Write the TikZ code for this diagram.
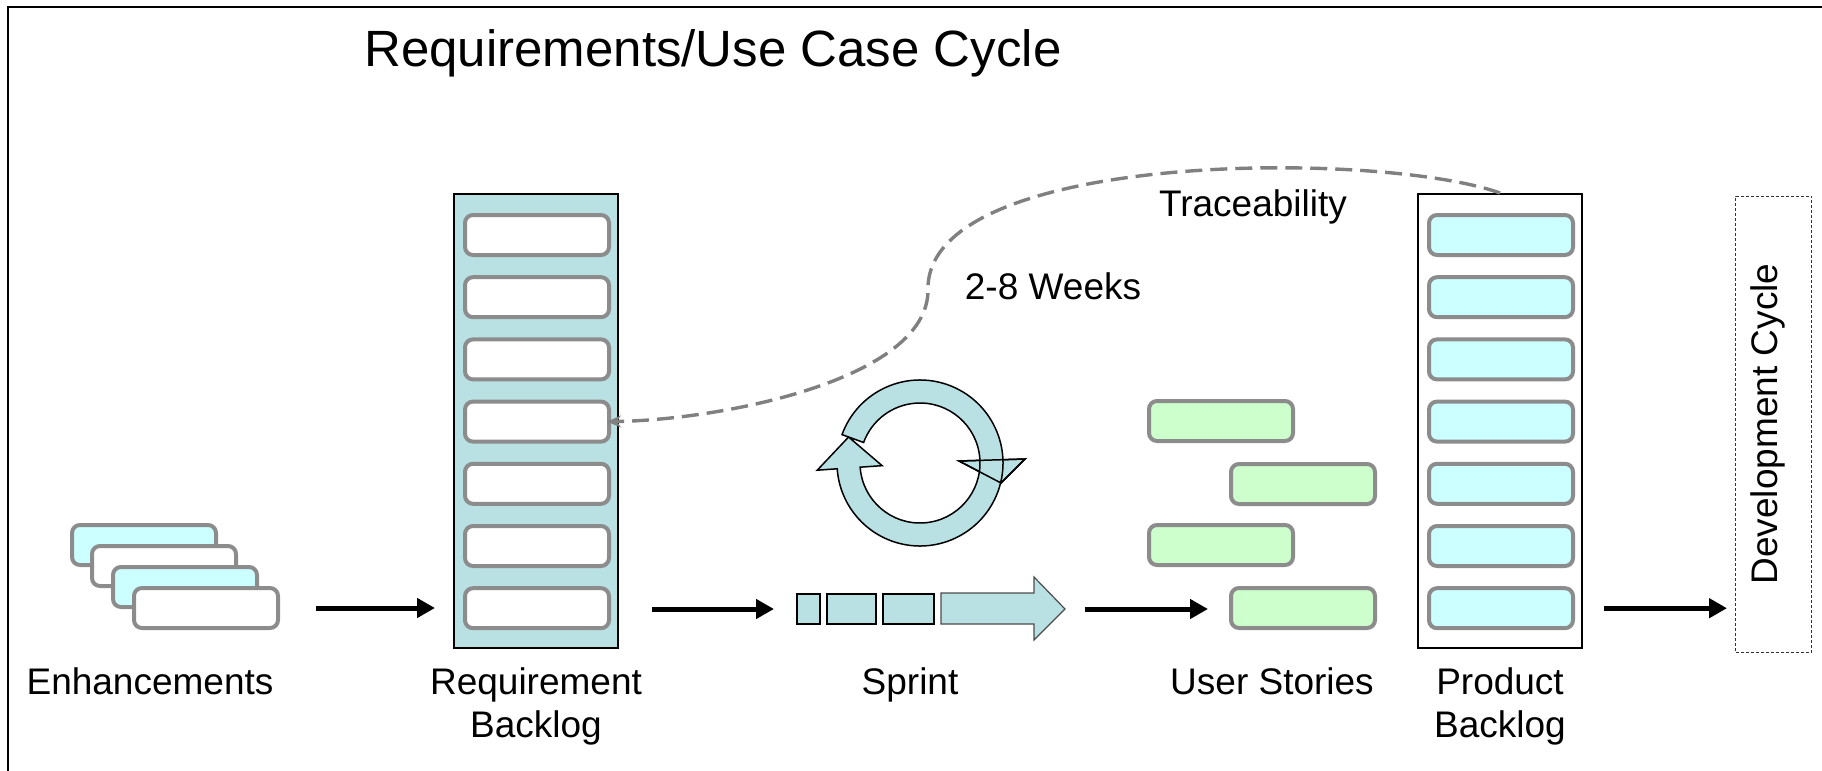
\documentclass[tikz,border=0pt]{standalone}
\usepackage{fontspec}
\setmainfont{Liberation Sans}
\usetikzlibrary{positioning,arrows.meta}
\definecolor{slotgray}{HTML}{8C8C8C}
\definecolor{paleblue}{HTML}{B9E0E3}
\definecolor{palecyan}{HTML}{CCFFFF}
\definecolor{palegreen}{HTML}{CCFFCC}

\begin{document}
\begin{tikzpicture}[x=0.5pt,y=-0.5pt,
  slot/.style={draw=slotgray,line width=2pt,rounded corners=4pt,minimum width=72pt,minimum height=20pt,inner sep=0pt},
  backlog/.style={draw,line width=1pt,minimum width=82pt,minimum height=227pt,inner sep=0pt},
  sprintbox/.style={draw,fill=paleblue,line width=1pt,minimum height=15pt,inner sep=0pt},
  flow/.style={line width=2.5pt,-{Triangle[length=9pt,width=9.5pt]}},
  lbl/.style={font=\fontsize{18.5}{21.5}\selectfont,inner sep=0pt,anchor=base,align=center}]
\useasboundingbox (0,0) rectangle (1822,771);
\draw[line width=1pt] (8,771) -- (8,7) -- (1822,7);
\node[font=\fontsize{25.5}{30}\selectfont,inner sep=0pt,anchor=base] (title) at (713,66) {Requirements/Use Case Cycle};

% enhancements
\node[slot,fill=palecyan] (e1) at (144,545) {};
\node[slot,fill=white] (e2) at (164,566) {};
\node[slot,fill=palecyan] (e3) at (185,587) {};
\node[slot,fill=white] (e4) at (206,608) {};

% backlogs
\node[backlog,fill=paleblue] (rbox) at (536,421) {};
\node[backlog,fill=white] (pbox) at (1500,421) {};
\foreach \i in {1,...,7}{
  \node[slot,fill=white] (rs\i) at (537,172.8+62.2*\i) {};
  \node[slot,fill=palecyan] (ps\i) at (1501,172.8+62.2*\i) {};
}

% sprint
\node[sprintbox,minimum width=11.5pt] (sq1) at (808.5,609) {};
\node[sprintbox,minimum width=24.5pt] (sq2) at (851.5,609) {};
\node[sprintbox,minimum width=25.5pt] (sq3) at (908.5,609) {};
\draw[fill=paleblue,draw=black!70,line width=0.6pt] (941,593) -- (1034,593) -- (1034,577) -- (1065,609) -- (1034,640) -- (1034,624) -- (941,624) -- cycle;
\coordinate (stip) at (1065,609);

% cycle
\begin{scope}[shift={(920,463)},line width=0.75pt]
\filldraw[fill=paleblue] (39,-2) -- (105,-4) -- (81,20) -- cycle;
\filldraw[fill=paleblue] (200:83) arc[start angle=200,end angle=536,radius=83] -- (536:103) -- (560:76) -- (536:38) -- (536:60) arc[start angle=536,end angle=200,radius=60] -- cycle;
\draw (39,-2) -- (105,-4) -- (81,20) -- cycle;
\end{scope}

% user stories
\node[slot,fill=palegreen] (us1) at (1221,421) {};
\node[slot,fill=palegreen] (us2) at (1303,484) {};
\node[slot,fill=palegreen] (us3) at (1221,545) {};
\node[slot,fill=palegreen] (us4) at (1303,608) {};

% development cycle
\node[draw=black!80,line width=0.5pt,dash pattern=on 1.5pt off 1pt,minimum width=38pt,minimum height=228pt,inner sep=0pt] (dev) at (1773.5,424) {};
\node[rotate=90,font=\fontsize{18.5}{21.5}\selectfont,inner sep=0pt] (devlabel) at ([xshift=-3pt]dev.center) {Development Cycle};

% arrows
\draw[flow,shorten <=18pt,shorten >=9pt] (e4.east) -- (e4.east -| rbox.west);
\draw[flow,shorten <=16.5pt,shorten >=11pt] (rbox.east |- sq1) -- (sq1.west);
\draw[flow,shorten <=10pt,shorten >=10.5pt] (stip) -- (stip -| us4.west);
\draw[flow,shorten <=10.5pt,shorten >=4pt] (pbox.east |- ps7) -- (ps7 -| dev.west);
\draw[draw=black!50,line width=1.7pt,dash pattern=on 8.5pt off 4pt,-{Stealth[length=7pt,width=6pt]},shorten >=-2pt] (pbox.north) .. controls (1380,150) and (925,150) .. (928,290) .. controls (928,380) and (720,420) .. (rs4.east);

% labels
\node[lbl] (enh) at (150,694) {Enhancements};
\node[lbl] (rlabel) at (536,737) {Requirement\\Backlog};
\node[lbl] (slabel) at (910,694) {Sprint};
\node[lbl] (ulabel) at (1272,694) {User Stories};
\node[lbl] (plabel) at (1500,737) {Product\\Backlog};
\node[lbl] (trace) at (1253,216) {Traceability};
\node[lbl] (weeks) at (1053,299) {2-8 Weeks};
\end{tikzpicture}
\end{document}
